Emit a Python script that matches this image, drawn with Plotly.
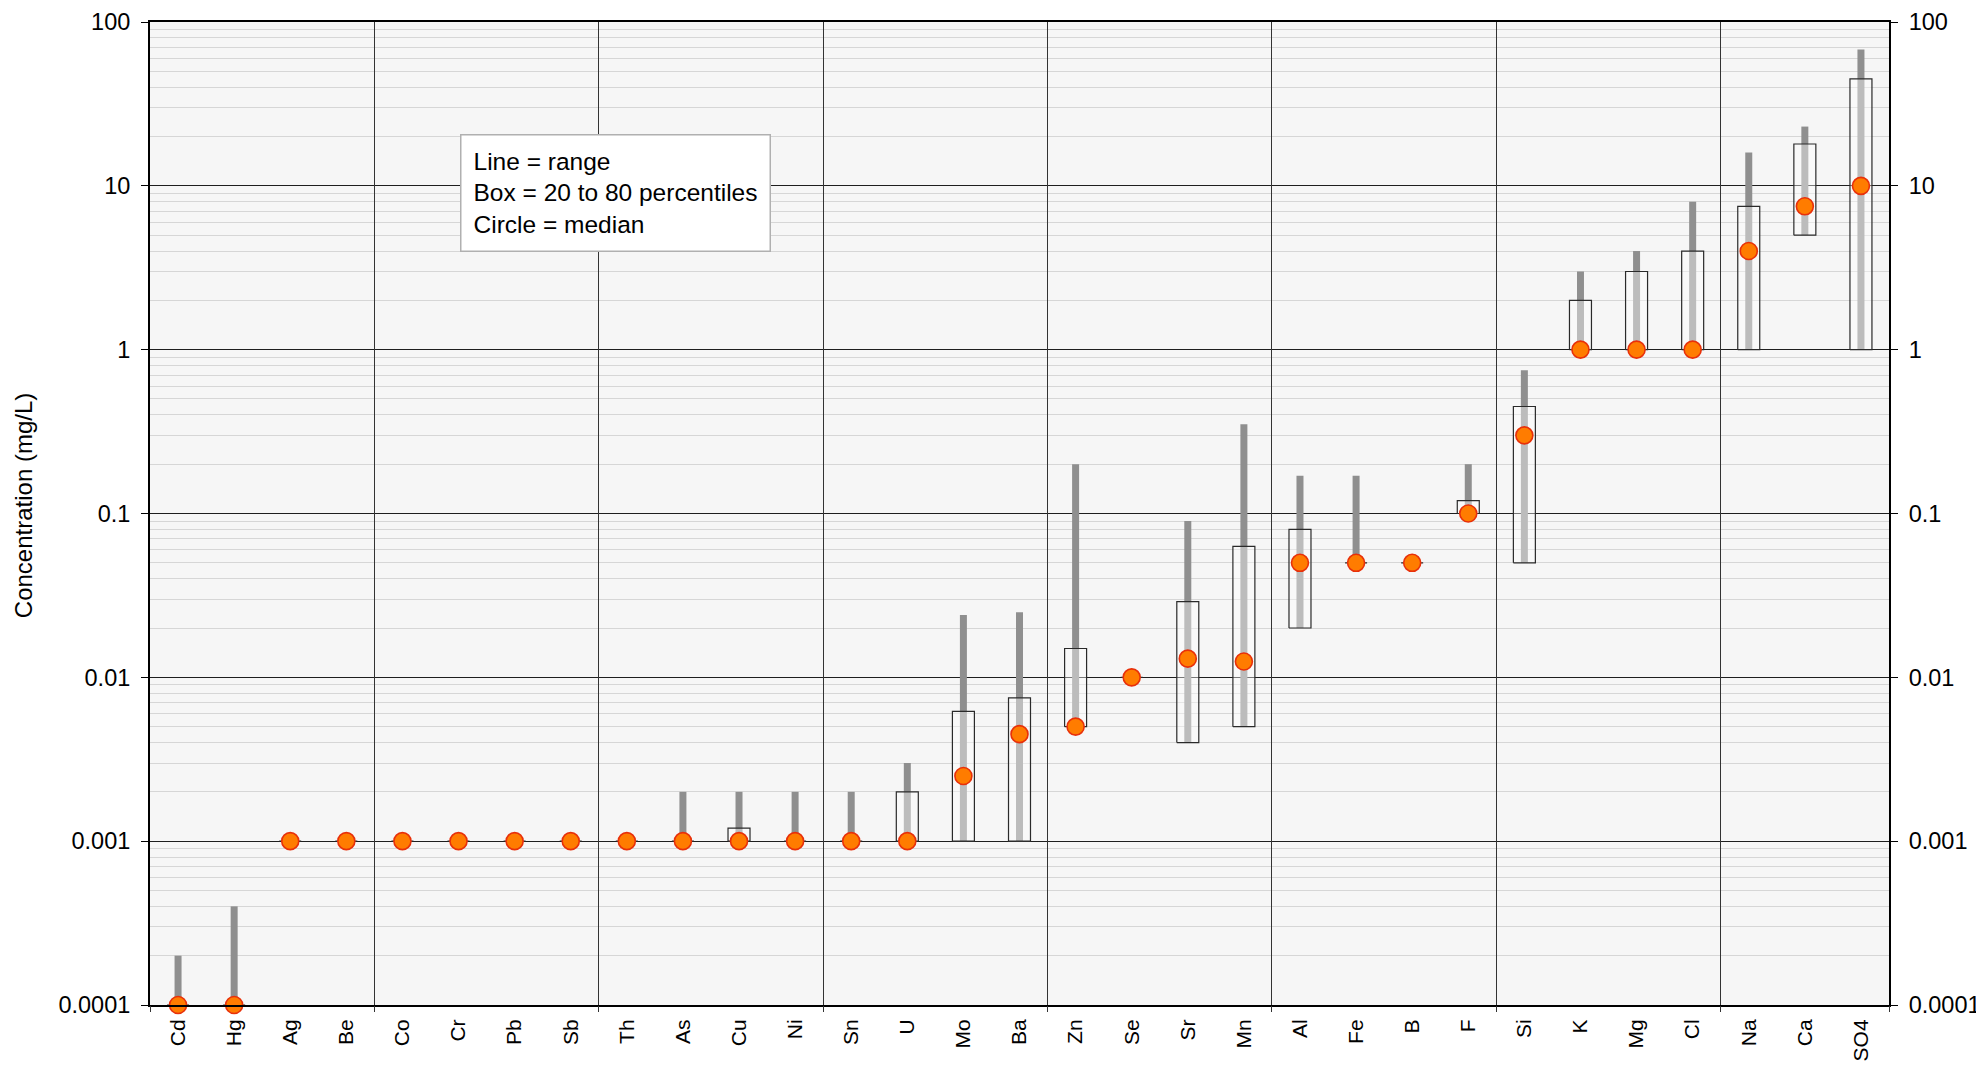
import plotly.graph_objects as go

categories = ["Cd", "Hg", "Ag", "Be", "Co", "Cr", "Pb", "Sb", "Th", "As", "Cu", "Ni", "Sn", "U",
              "Mo", "Ba", "Zn", "Se", "Sr", "Mn", "Al", "Fe", "B", "F", "Si", "K", "Mg", "Cl",
              "Na", "Ca", "SO4"]
range_min = [0.0001, 0.0001, 0.001, 0.001, 0.001, 0.001, 0.001, 0.001, 0.001, 0.001, 0.001, 0.001,
             0.001, 0.001, 0.001, 0.001, 0.005, 0.01, 0.004, 0.005, 0.02, 0.05, 0.05, 0.1, 0.05,
             1, 1, 1, 1, 5, 1]
range_max = [0.0002, 0.0004, 0.001, 0.001, 0.001, 0.001, 0.001, 0.001, 0.001, 0.002, 0.002, 0.002,
             0.002, 0.003, 0.024, 0.025, 0.2, 0.01, 0.09, 0.35, 0.17, 0.17, 0.05, 0.2, 0.75,
             3, 4, 8, 16, 23, 68]
p20 = [0.0001, 0.0001, 0.001, 0.001, 0.001, 0.001, 0.001, 0.001, 0.001, 0.001, 0.001, 0.001,
       0.001, 0.001, 0.001, 0.001, 0.005, 0.01, 0.004, 0.005, 0.02, 0.05, 0.05, 0.1, 0.05,
       1, 1, 1, 1, 5, 1]
p80 = [0.0001, 0.0001, 0.001, 0.001, 0.001, 0.001, 0.001, 0.001, 0.001, 0.001, 0.0012, 0.001,
       0.001, 0.002, 0.0062, 0.0075, 0.015, 0.01, 0.029, 0.063, 0.08, 0.05, 0.05, 0.12, 0.45,
       2, 3, 4, 7.5, 18, 45]
median = [0.0001, 0.0001, 0.001, 0.001, 0.001, 0.001, 0.001, 0.001, 0.001, 0.001, 0.001, 0.001,
          0.001, 0.001, 0.0025, 0.0045, 0.005, 0.01, 0.013, 0.0125, 0.05, 0.05, 0.05, 0.1, 0.3,
          1, 1, 1, 4, 7.5, 10]
y_tickvals = [0.0001, 0.001, 0.01, 0.1, 1, 10, 100]
y_ticktext = ["0.0001", "0.001", "0.01", "0.1", "1", "10", "100"]
legend_text = "Line = range<br>Box = 20 to 80 percentiles<br>Circle = median"

n = len(categories)
xi = list(range(n))
group = 4
sep_vals = [g - 0.5 for g in range(0, n + 1, group)] + [n - 0.5]
half = 0.196

FONT = "Liberation Sans, Arial, sans-serif"

# range lines
lx, ly = [], []
for i in xi:
    lx += [i, i, None]
    ly += [range_min[i], range_max[i], None]

# boxes
bx, by = [], []
for i in xi:
    bx += [i - half, i + half, i + half, i - half, i - half, None]
    by += [p20[i], p20[i], p80[i], p80[i], p20[i], None]

fig = go.Figure()
fig.add_trace(go.Scatter(x=lx, y=ly, mode="lines", line=dict(color="#8f8f8f", width=7),
                         hoverinfo="skip", showlegend=False))
fig.add_trace(go.Scatter(x=bx, y=by, mode="lines", fill="toself",
                         fillcolor="rgba(255,255,255,0.4)",
                         line=dict(color="#2a2a2a", width=1.2), hoverinfo="skip", showlegend=False))
fig.add_trace(go.Scatter(x=xi, y=median, mode="markers", cliponaxis=False,
                         marker=dict(size=17, color="#ff7c00", line=dict(color="#e8300a", width=1.6)),
                         showlegend=False))
# invisible trace to hold the overlay axes
fig.add_trace(go.Scatter(x=xi, y=median, mode="markers", marker=dict(opacity=0),
                         xaxis="x2", yaxis="y2", hoverinfo="skip", showlegend=False))

fig.update_layout(
    width=1984, height=1068,
    margin=dict(l=142, r=103, t=14, b=71, autoexpand=False),
    paper_bgcolor="white",
    plot_bgcolor="#f6f6f6",
    font=dict(family=FONT, size=24, color="black"),
    showlegend=False,
    xaxis=dict(
        range=[-0.5, n - 0.5], tickvals=xi, ticktext=categories, tickangle=-90,
        ticks="", showgrid=False, zeroline=False, automargin=False,
        showline=True, linecolor="black", linewidth=2, mirror=True,
        tickfont=dict(size=21), ticklabelstandoff=4,
    ),
    xaxis2=dict(
        overlaying="x", anchor="y", side="bottom", range=[-0.5, n - 0.5],
        tickvals=sep_vals, showticklabels=False, ticks="outside", ticklen=6,
        tickcolor="#333333", showgrid=True, gridcolor="#333333", gridwidth=1,
        zeroline=False, showline=False, automargin=False,
    ),
    yaxis=dict(
        type="log", range=[-4, 2], tickvals=y_tickvals, ticktext=y_ticktext,
        ticks="outside", ticklen=7, tickcolor="black", automargin=False,
        showgrid=True, gridcolor="#1e1e1e", gridwidth=1,
        minor=dict(dtick="D1", showgrid=True, gridcolor="#d6d6d6", gridwidth=1.2, ticks=""),
        showline=True, linecolor="black", linewidth=2, mirror=True, zeroline=False,
        tickfont=dict(size=23.5), ticklabelstandoff=6,
    ),
    yaxis2=dict(
        type="log", range=[-4, 2], overlaying="y", side="right", anchor="x2",
        tickvals=y_tickvals, ticktext=y_ticktext, automargin=False,
        ticks="outside", ticklen=7, tickcolor="black", showgrid=False,
        showline=True, linecolor="black", linewidth=2, zeroline=False,
        tickfont=dict(size=23.5), ticklabelstandoff=6,
    ),
    annotations=[
        dict(text=legend_text, xref="paper", yref="paper", x=0.178, y=0.886,
             xanchor="left", yanchor="top", align="left", showarrow=False,
             font=dict(size=24.5, color="black", family=FONT),
             bgcolor="white", bordercolor="#b0b0b0", borderwidth=1.5, borderpad=12),
        dict(text="Concentration (mg/L)", xref="paper", yref="paper", x=-0.073, y=0.5075,
             xanchor="center", yanchor="middle", textangle=-90, showarrow=False,
             font=dict(size=24, color="black", family=FONT)),
    ],
)

fig.write_html("out.html")
